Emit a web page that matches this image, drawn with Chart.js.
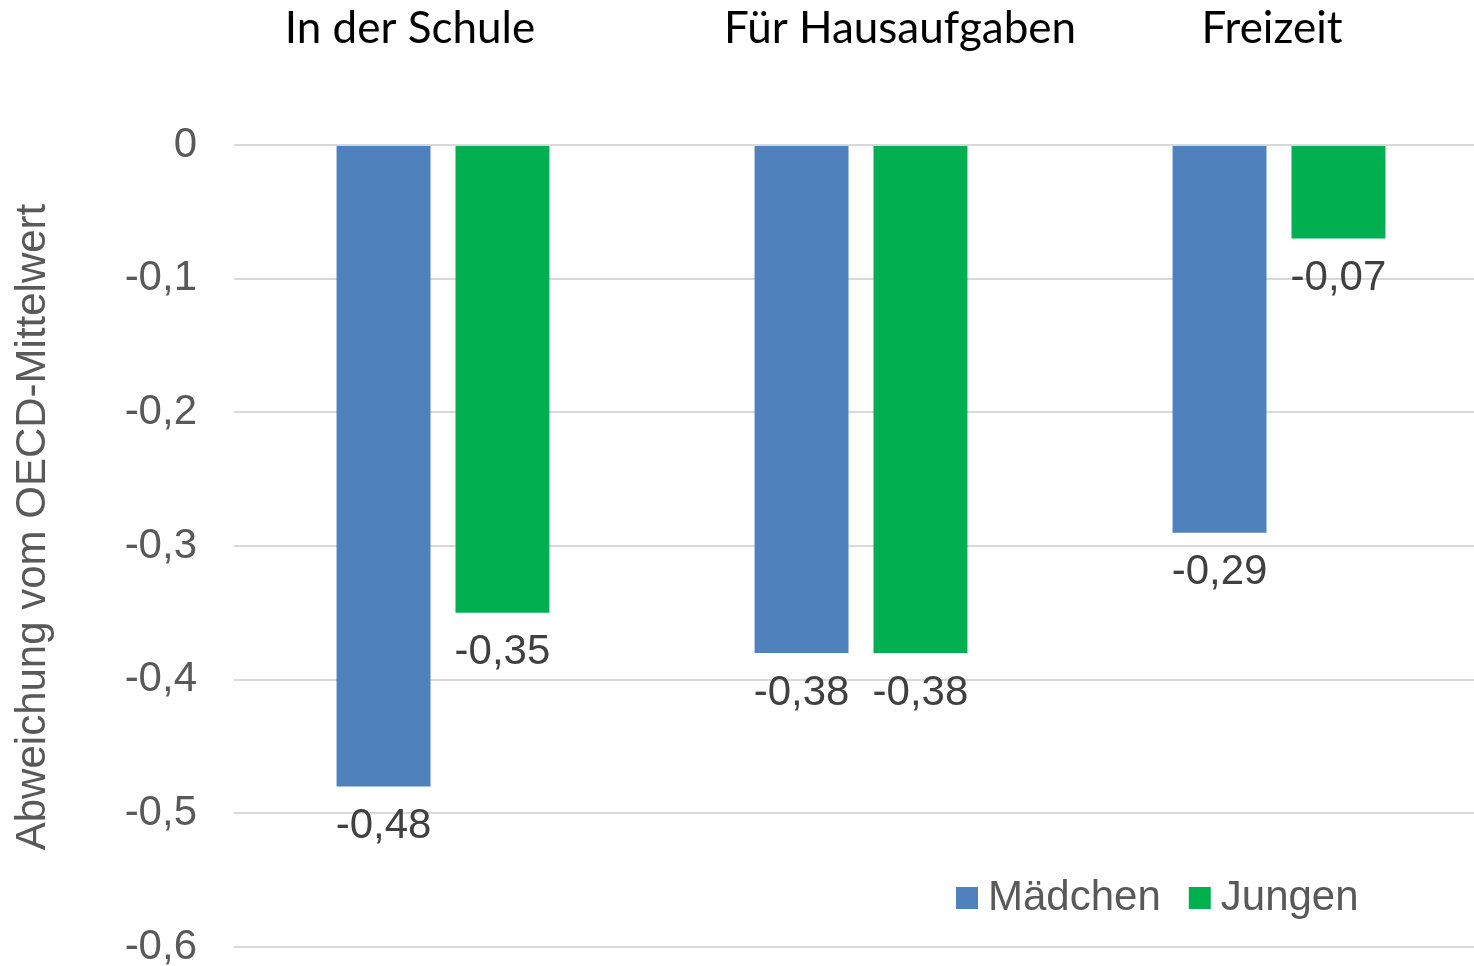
<!DOCTYPE html>
<html lang="de">
<head>
<meta charset="utf-8">
<title>Abweichung vom OECD-Mittelwert</title>
<script src="https://cdn.jsdelivr.net/npm/chart.js@4.4.1/dist/chart.umd.min.js"></script>
<style>
  html, body { margin: 0; padding: 0; background: #fff; overflow: hidden; }
  #wrap { width: 1488px; height: 966px; position: relative; }
</style>
</head>
<body>
<div id="wrap"><canvas id="chart"></canvas></div>
<script>
// ---------------------------------------------
// Data
// ---------------------------------------------

const categories = ["In der Schule", "Für Hausaufgaben", "Freizeit"];
const seriesNames = ["Mädchen", "Jungen"];
const maedchen = [-0.48, -0.38, -0.29];
const jungen = [-0.35, -0.38, -0.07];
const yTicks = [0, -0.1, -0.2, -0.3, -0.4, -0.5, -0.6];
const yTitle = "Abweichung vom OECD-Mittelwert";

const BLUE = "#4F81BD";
const GREEN = "#00B050";
const TEXT = "#595959";
const LABEL = "#404040";
const FONT = "'Liberation Sans', Arial, sans-serif";

function fmt(v) {
  if (v === 0) return "0";
  return v.toFixed(String(v).split(".")[1]?.length > 1 ? 2 : 1).replace(".", ",");
}

// ---------------------------------------------
// Plugins
// ---------------------------------------------

// category headings above the plot (text boxes in the original)
const titleShift = [-33, 39, -7];
const topTitles = {
  id: "topTitles",
  afterDraw(chart) {
    const { ctx } = chart;
    const x = chart.scales.x;
    ctx.save();
    ctx.font = "44px Lato, 'Open Sans', sans-serif";
    ctx.fillStyle = "#000";
    ctx.textAlign = "center";
    ctx.textBaseline = "alphabetic";
    chart.data.labels.forEach((lbl, i) => {
      ctx.fillText(lbl, x.getPixelForValue(i) + titleShift[i], 43);
    });
    ctx.restore();
  }
};

// rotated y axis title, sits a bit above the plot middle
const sideTitle = {
  id: "sideTitle",
  afterDraw(chart) {
    const { ctx } = chart;
    ctx.save();
    ctx.translate(33, 527);
    ctx.rotate(-Math.PI / 2);
    ctx.font = "42px " + FONT;
    ctx.fillStyle = TEXT;
    ctx.textAlign = "center";
    ctx.textBaseline = "middle";
    ctx.fillText(yTitle, 0, 0);
    ctx.restore();
  }
};

// value labels under each bar end
const barLabels = {
  id: "barLabels",
  afterDatasetsDraw(chart) {
    const { ctx } = chart;
    ctx.save();
    ctx.font = "42px " + FONT;
    ctx.fillStyle = LABEL;
    ctx.textAlign = "center";
    ctx.textBaseline = "middle";
    chart.data.datasets.forEach((ds, di) => {
      chart.getDatasetMeta(di).data.forEach((bar, i) => {
        ctx.fillText(fmt(ds.data[i]), bar.x, bar.y + 40);
      });
    });
    ctx.restore();
  }
};

// legend in the lower right corner
const cornerLegend = {
  id: "cornerLegend",
  afterDraw(chart) {
    const { ctx } = chart;
    ctx.save();
    ctx.font = "42px " + FONT;
    ctx.textBaseline = "middle";
    let x = 956;
    const y = 898;
    chart.data.datasets.forEach(ds => {
      ctx.fillStyle = ds.backgroundColor;
      ctx.fillRect(x, y - 11, 22, 22);
      ctx.fillStyle = TEXT;
      ctx.fillText(ds.label, x + 32, y);
      x += 32 + ctx.measureText(ds.label).width + 28;
    });
    ctx.restore();
  }
};

// ---------------------------------------------
// Chart
// ---------------------------------------------

new Chart(document.getElementById("chart"), {
  type: "bar",
  data: {
    labels: categories,
    datasets: [
      { label: seriesNames[0], data: maedchen, backgroundColor: BLUE },
      { label: seriesNames[1], data: jungen, backgroundColor: GREEN }
    ]
  },
  options: {
    responsive: true,
    maintainAspectRatio: false,
    animation: false,
    categoryPercentage: 0.569,
    barPercentage: 0.79,
    layout: { padding: { top: 145, bottom: 19, left: 0, right: 0 } },
    plugins: {
      legend: { display: false },
      tooltip: { enabled: false }
    },
    scales: {
      x: { display: false },
      y: {
        min: -0.6,
        max: 0,
        afterBuildTicks(scale) {
          scale.ticks = yTicks.map(v => ({ value: v }));
        },
        afterFit(scale) {
          scale.width = 234;
          scale.paddingTop = 0;
          scale.paddingBottom = 0;
        },
        border: { display: false },
        grid: { color: "#D9D9D9", lineWidth: 2, drawTicks: false },
        ticks: {
          padding: 37,
          color: TEXT,
          font: { family: FONT, size: 42 },
          callback: v => fmt(v)
        },
        title: { display: false }
      }
    }
  },
  plugins: [topTitles, sideTitle, barLabels, cornerLegend]
});
</script>
</body>
</html>
